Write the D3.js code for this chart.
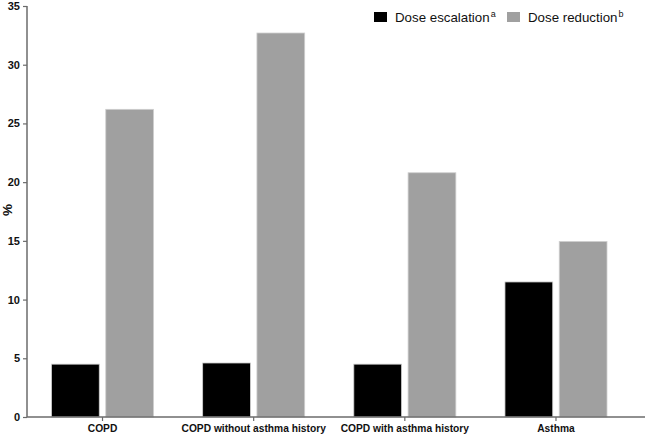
<!DOCTYPE html>
<html><head><meta charset="utf-8">
<script src="https://cdn.jsdelivr.net/npm/d3@7"></script>
<style>
body{margin:0;background:#fff;}
svg{display:block;}
</style></head><body>
<svg id="c" width="646" height="436"></svg>
<script>
const categories = ["COPD", "COPD without asthma history", "COPD with asthma history", "Asthma"];
const seriesNames = ["Dose escalation", "Dose reduction"];
const seriesSup = ["a", "b"];
const escalation = [4.5, 4.6, 4.5, 11.5];
const reduction = [26.2, 32.7, 20.8, 14.95];
const yTicks = [0, 5, 10, 15, 20, 25, 30, 35];
const colors = ["#000000", "#a0a0a0"];

const FONT = "Liberation Sans, Arial, sans-serif";
const svg = d3.select("#c");
const axisX0 = 27, axisX1 = 645;
const y = d3.scaleLinear().domain([0, 35]).range([417, 6]);
const x0 = d3.scaleBand().domain(categories).range([51.5, 607]).paddingInner(0.325).paddingOuter(0);
const x1 = d3.scaleBand().domain(seriesNames).range([0, x0.bandwidth()]).paddingInner(0.12).paddingOuter(0);

const data = categories.map((c, i) => ({cat: c, vals: [escalation[i], reduction[i]]}));

// bars
const g = svg.append("g");
data.forEach(d => {
  d.vals.forEach((v, j) => {
    g.append("rect")
      .attr("x", x0(d.cat) + x1(seriesNames[j]))
      .attr("y", y(v))
      .attr("width", x1.bandwidth())
      .attr("height", y(0) - y(v))
      .attr("fill", colors[j])
      .attr("stroke", "#cfcfcf")
      .attr("stroke-width", 0.8);
  });
});

const axisColor = "#6b6b6b";
// y axis
const yAxis = svg.append("g").attr("transform", `translate(${axisX0},0)`)
  .call(d3.axisLeft(y).tickValues(yTicks).tickSize(4).tickPadding(3).tickFormat(d3.format("d")));
yAxis.select(".domain").attr("stroke", axisColor).attr("stroke-width", 1.5).attr("d", `M0,${y(0)}V${y(35)}`);
yAxis.selectAll(".tick line").attr("stroke", axisColor).attr("stroke-width", 1.2);
yAxis.selectAll(".tick text").attr("font-family", FONT).attr("font-weight", "bold").attr("font-size", 11).attr("fill", "#111");

// x axis
const xAxis = svg.append("g").attr("transform", `translate(0,${y(0)})`)
  .call(d3.axisBottom(x0).tickSize(4).tickPadding(3).tickSizeOuter(0));
xAxis.select(".domain").attr("stroke", axisColor).attr("stroke-width", 1.5).attr("d", `M${axisX0},0H${axisX1}`);
xAxis.selectAll(".tick line").attr("stroke", axisColor).attr("stroke-width", 1.2);
xAxis.selectAll(".tick text")
  .attr("font-family", FONT).attr("font-weight", "bold").attr("font-size", 11.5).attr("fill", "#111")
  .attr("y", 0).attr("dy", 0)
  .attr("transform", "translate(0,14.5) scale(0.89,1)");

// y label
svg.append("text").attr("transform", `translate(12,210) rotate(-90)`)
  .attr("text-anchor", "middle").attr("font-family", FONT)
  .attr("font-weight", "bold").attr("font-size", 13.5).attr("fill", "#111").text("%");

// legend
const legX = [374, 507];
seriesNames.forEach((s, j) => {
  const lg = svg.append("g").attr("transform", `translate(${legX[j]},12)`);
  lg.append("rect").attr("width", 13).attr("height", 10).attr("fill", colors[j]);
  const t = lg.append("text").attr("x", 21).attr("y", 9.5)
    .attr("font-family", FONT).attr("font-size", 13.3).attr("fill", "#111");
  t.append("tspan").text(s);
  t.append("tspan").attr("font-size", 9).attr("dy", -5).attr("dx", 1).text(seriesSup[j]);
});
</script>
</body></html>
